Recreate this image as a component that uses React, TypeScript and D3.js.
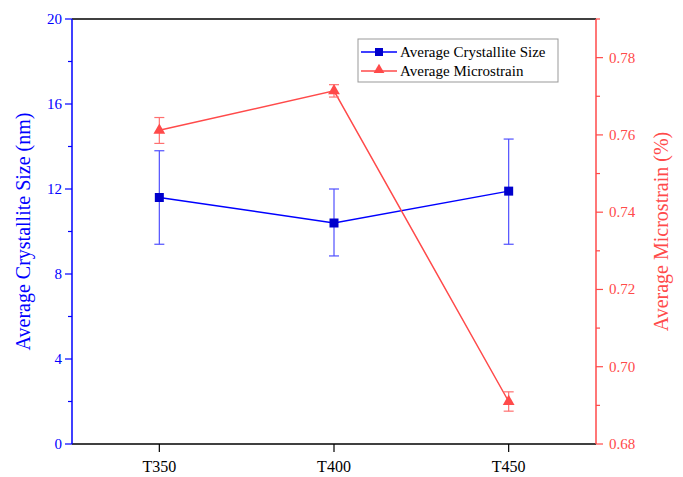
import React from "react";
import * as d3 from "d3";

const categories = ["T350", "T400", "T450"];
const sizeValues = [11.6, 10.4, 11.9];
const sizeLow = [9.4, 8.85, 9.4];
const sizeHigh = [13.8, 12.0, 14.35];
const strainValues = [0.7612, 0.7714, 0.691];
const strainLow = [0.7578, 0.7698, 0.6885];
const strainHigh = [0.7645, 0.773, 0.6935];
const leftTicks = [0, 4, 8, 12, 16, 20];
const rightTicks = [0.68, 0.7, 0.72, 0.74, 0.76, 0.78];

const W = 683, H = 477;
const L = 72, R = 596, T = 19, B = 444;
const BLUE = "#0000ff";
const RED = "#ff4a4a";
const FONT = "'Liberation Serif', 'Times New Roman', serif";

export default function App() {
  const x = d3.scaleLinear().domain([0.5, 3.5]).range([L, R]);
  const yL = d3.scaleLinear().domain([0, 20]).range([B, T]);
  const yR = d3.scaleLinear().domain([0.68, 0.79]).range([B, T]);
  const xi = (i: number) => x(i + 1);

  const lineL = d3.line<number>().x((_, i) => xi(i)).y((d) => yL(d));
  const lineR = d3.line<number>().x((_, i) => xi(i)).y((d) => yR(d));
  const tri = d3.symbol().type(d3.symbolTriangle).size(60)();

  const leftMinor = d3.range(2, 20, 4);
  const rightMinor = [0.69, 0.71, 0.73, 0.75, 0.77, 0.79].filter((v) => v <= 0.79);

  return (
    <div style={{ position: "absolute", left: 0, top: 0 }}>
      <svg width={W} height={H} style={{ display: "block", background: "#fff" }} fontFamily={FONT}>
        {/* frame */}
        <line x1={L} x2={R} y1={T} y2={T} stroke="#000" strokeWidth={1.5} />
        <line x1={L} x2={R} y1={B} y2={B} stroke="#000" strokeWidth={1.5} />
        {/* x ticks */}
        {categories.map((c, i) => (
          <g key={c}>
            <line x1={xi(i)} x2={xi(i)} y1={B} y2={B + 8} stroke="#000" strokeWidth={1.2} />
            <text x={xi(i)} y={B + 28} textAnchor="middle" fontSize={16} fill="#000">{c}</text>
          </g>
        ))}
        {/* left axis */}
        <line x1={L} x2={L} y1={T} y2={B} stroke={BLUE} strokeWidth={1.5} />
        {leftTicks.map((v) => (
          <g key={v}>
            <line x1={L - 7} x2={L} y1={yL(v)} y2={yL(v)} stroke={BLUE} strokeWidth={1.2} />
            <text x={L - 10} y={yL(v) + 5} textAnchor="end" fontSize={15} fill={BLUE}>{v}</text>
          </g>
        ))}
        {leftMinor.map((v) => (
          <line key={v} x1={L - 4} x2={L} y1={yL(v)} y2={yL(v)} stroke={BLUE} strokeWidth={1.2} />
        ))}
        <text transform={`translate(30,${(T + B) / 2}) rotate(-90)`} textAnchor="middle" fontSize={20} fill={BLUE}>
          Average Crystallite Size (nm)
        </text>
        {/* right axis */}
        <line x1={R} x2={R} y1={T} y2={B} stroke={RED} strokeWidth={1.5} />
        {rightTicks.map((v) => (
          <g key={v}>
            <line x1={R} x2={R + 7} y1={yR(v)} y2={yR(v)} stroke={RED} strokeWidth={1.2} />
            <text x={R + 13} y={yR(v) + 5} textAnchor="start" fontSize={15} fill={RED}>{v.toFixed(2)}</text>
          </g>
        ))}
        {rightMinor.map((v) => (
          <line key={v} x1={R} x2={R + 4} y1={yR(v)} y2={yR(v)} stroke={RED} strokeWidth={1.2} />
        ))}
        <text transform={`translate(668,${(T + B) / 2}) rotate(-90)`} textAnchor="middle" fontSize={20} fill={RED}>
          Average Microstrain (%)
        </text>

        {/* blue series */}
        <path d={lineL(sizeValues) || ""} fill="none" stroke={BLUE} strokeWidth={1.5} />
        {sizeValues.map((v, i) => (
          <g key={"b" + i} stroke="#5050ff" strokeWidth={1.2}>
            <line x1={xi(i)} x2={xi(i)} y1={yL(sizeLow[i])} y2={yL(sizeHigh[i])} />
            <line x1={xi(i) - 5} x2={xi(i) + 5} y1={yL(sizeLow[i])} y2={yL(sizeLow[i])} />
            <line x1={xi(i) - 5} x2={xi(i) + 5} y1={yL(sizeHigh[i])} y2={yL(sizeHigh[i])} />
          </g>
        ))}
        {sizeValues.map((v, i) => (
          <rect key={"bs" + i} x={xi(i) - 4.5} y={yL(v) - 4.5} width={9} height={9} fill="#0000cc" />
        ))}

        {/* red series */}
        <path d={lineR(strainValues) || ""} fill="none" stroke={RED} strokeWidth={1.5} />
        {strainValues.map((v, i) => (
          <g key={"r" + i} stroke="#ff7070" strokeWidth={1.2}>
            <line x1={xi(i)} x2={xi(i)} y1={yR(strainLow[i])} y2={yR(strainHigh[i])} />
            <line x1={xi(i) - 5} x2={xi(i) + 5} y1={yR(strainLow[i])} y2={yR(strainLow[i])} />
            <line x1={xi(i) - 5} x2={xi(i) + 5} y1={yR(strainHigh[i])} y2={yR(strainHigh[i])} />
          </g>
        ))}
        {strainValues.map((v, i) => (
          <path key={"rt" + i} d={tri || ""} transform={`translate(${xi(i)},${yR(v)})`} fill={RED} />
        ))}

        {/* legend */}
        <rect x={358} y={39} width={200} height={43} fill="#fff" stroke="#999" strokeWidth={1} />
        <line x1={361} x2={397} y1={52} y2={52} stroke={BLUE} strokeWidth={1.5} />
        <rect x={379 - 4} y={52 - 4} width={8} height={8} fill="#0000cc" />
        <text x={400} y={57} fontSize={15} fill="#000">Average Crystallite Size</text>
        <line x1={361} x2={397} y1={71} y2={71} stroke={RED} strokeWidth={1.5} />
        <path d={d3.symbol().type(d3.symbolTriangle).size(50)() || ""} transform="translate(379,70)" fill={RED} />
        <text x={400} y={76} fontSize={15} fill="#000">Average Microstrain</text>
      </svg>
    </div>
  );
}
